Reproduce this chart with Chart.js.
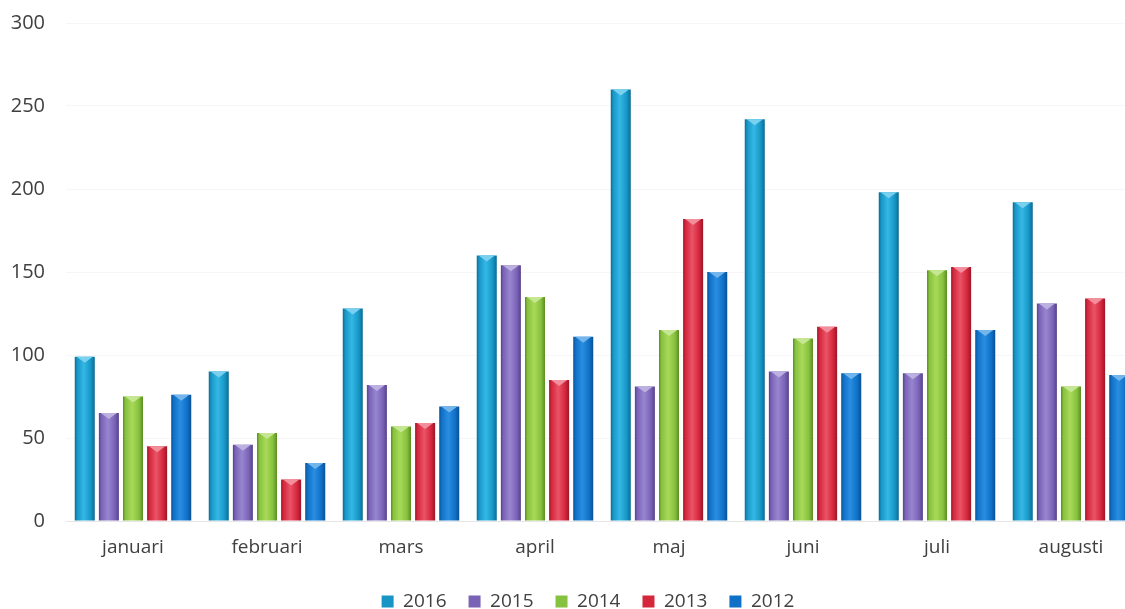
<!DOCTYPE html>
<html>
<head>
<meta charset="utf-8">
<script src="https://cdn.jsdelivr.net/npm/chart.js@4/dist/chart.umd.min.js"></script>
<style>
  html, body { margin: 0; padding: 0; background: #fff; overflow: hidden; }
  #wrap { width: 1140px; height: 609px; }
</style>
</head>
<body>
<div id="wrap"><canvas id="monthChart"></canvas></div>
<script>
const months = ['januari', 'februari', 'mars', 'april', 'maj', 'juni', 'juli', 'augusti'];
const years = ['2016', '2015', '2014', '2013', '2012'];
const v2016 = [99, 90, 128, 160, 260, 242, 198, 192];
const v2015 = [65, 46, 82, 154, 81, 90, 89, 131];
const v2014 = [75, 53, 57, 135, 115, 110, 151, 81];
const v2013 = [45, 25, 59, 85, 182, 117, 153, 134];
const v2012 = [76, 35, 69, 111, 150, 89, 115, 88];
const yTicks = [0, 50, 100, 150, 200, 250, 300];

// [edge, base, highlight] per year
const shades = [
  ['#0c6a92', '#1796c6', '#34b8e6'],
  ['#55418c', '#7a62b6', '#9886d0'],
  ['#5a8d20', '#86c13f', '#a8da58'],
  ['#9c1628', '#d5263c', '#ea5467'],
  ['#0a5096', '#0f70c8', '#2a8ee0'],
];
const seriesValues = [v2016, v2015, v2014, v2013, v2012];
const font = (size, lineHeight = 1) => ({ family: '"Open Sans", sans-serif', size, lineHeight });

// cylinder-ish shading + little cap on top of each bar
const barShading = {
  id: 'barShading',
  afterLayout(chart) {
    // legend of the uncropped original sat a bit right of the visible middle
    chart.legend.left += 19;
    chart.legend.right += 19;
  },
  beforeDatasetsDraw(chart) {
    const ctx = chart.ctx;
    chart.data.datasets.forEach((ds, i) => {
      const [edge, base, hi] = shades[i];
      chart.getDatasetMeta(i).data.forEach((bar) => {
        const l = bar.x - bar.width / 2, r = bar.x + bar.width / 2;
        const g = ctx.createLinearGradient(l, 0, r, 0);
        g.addColorStop(0, edge);
        g.addColorStop(0.12, base);
        g.addColorStop(0.45, hi);
        g.addColorStop(0.8, base);
        g.addColorStop(1, edge);
        bar.options = Object.assign({}, bar.options, { backgroundColor: g });
      });
    });
  },
  afterDatasetsDraw(chart) {
    const ctx = chart.ctx;
    chart.data.datasets.forEach((ds, i) => {
      chart.getDatasetMeta(i).data.forEach((bar) => {
        const l = bar.x - bar.width / 2 + 2, r = bar.x + bar.width / 2 - 2;
        ctx.save();
        ctx.fillStyle = shades[i][2];
        ctx.beginPath();
        ctx.moveTo(l, bar.y);
        ctx.lineTo(r, bar.y);
        ctx.lineTo(bar.x, bar.y + 6);
        ctx.closePath();
        ctx.fill();
        ctx.fillStyle = 'rgba(255,255,255,0.35)';
        ctx.fill();
        ctx.restore();
      });
    });
  },
};

new Chart(document.getElementById('monthChart'), {
  type: 'bar',
  data: {
    labels: months,
    datasets: years.map((y, i) => ({
      label: y,
      data: seriesValues[i],
      backgroundColor: shades[i][1],
      borderWidth: 0,
      categoryPercentage: 0.9,
      barPercentage: 0.83,
    })),
  },
  options: {
    responsive: true, maintainAspectRatio: false, animation: false,
    layout: { padding: { left: 0, right: 2, top: 23, bottom: -12 } },
    plugins: {
      tooltip: { enabled: false },
      legend: {
        position: 'bottom',
        labels: { boxWidth: 12, boxHeight: 12, padding: 22, color: '#404040', font: font(19) },
      },
    },
    scales: {
      x: {
        afterFit: (axis) => { axis.height = 49; },
        grid: { display: false, drawTicks: false },
        border: { color: '#e6e6e6' },
        ticks: { font: font(19, 0.1), color: '#404040', padding: 26 },
      },
      y: {
        min: 0, max: 300,
        afterBuildTicks: (axis) => { axis.ticks = yTicks.map((v) => ({ value: v })); },
        afterFit: (axis) => { axis.width = 66; axis.paddingTop = 0; axis.paddingBottom = 0; },
        grid: { color: 'rgba(0,0,0,0.035)', drawTicks: false },
        border: { display: false },
        ticks: { font: font(20), color: '#404040', padding: 21 },
      },
    },
  },
  plugins: [barShading],
});
</script>
</body>
</html>
